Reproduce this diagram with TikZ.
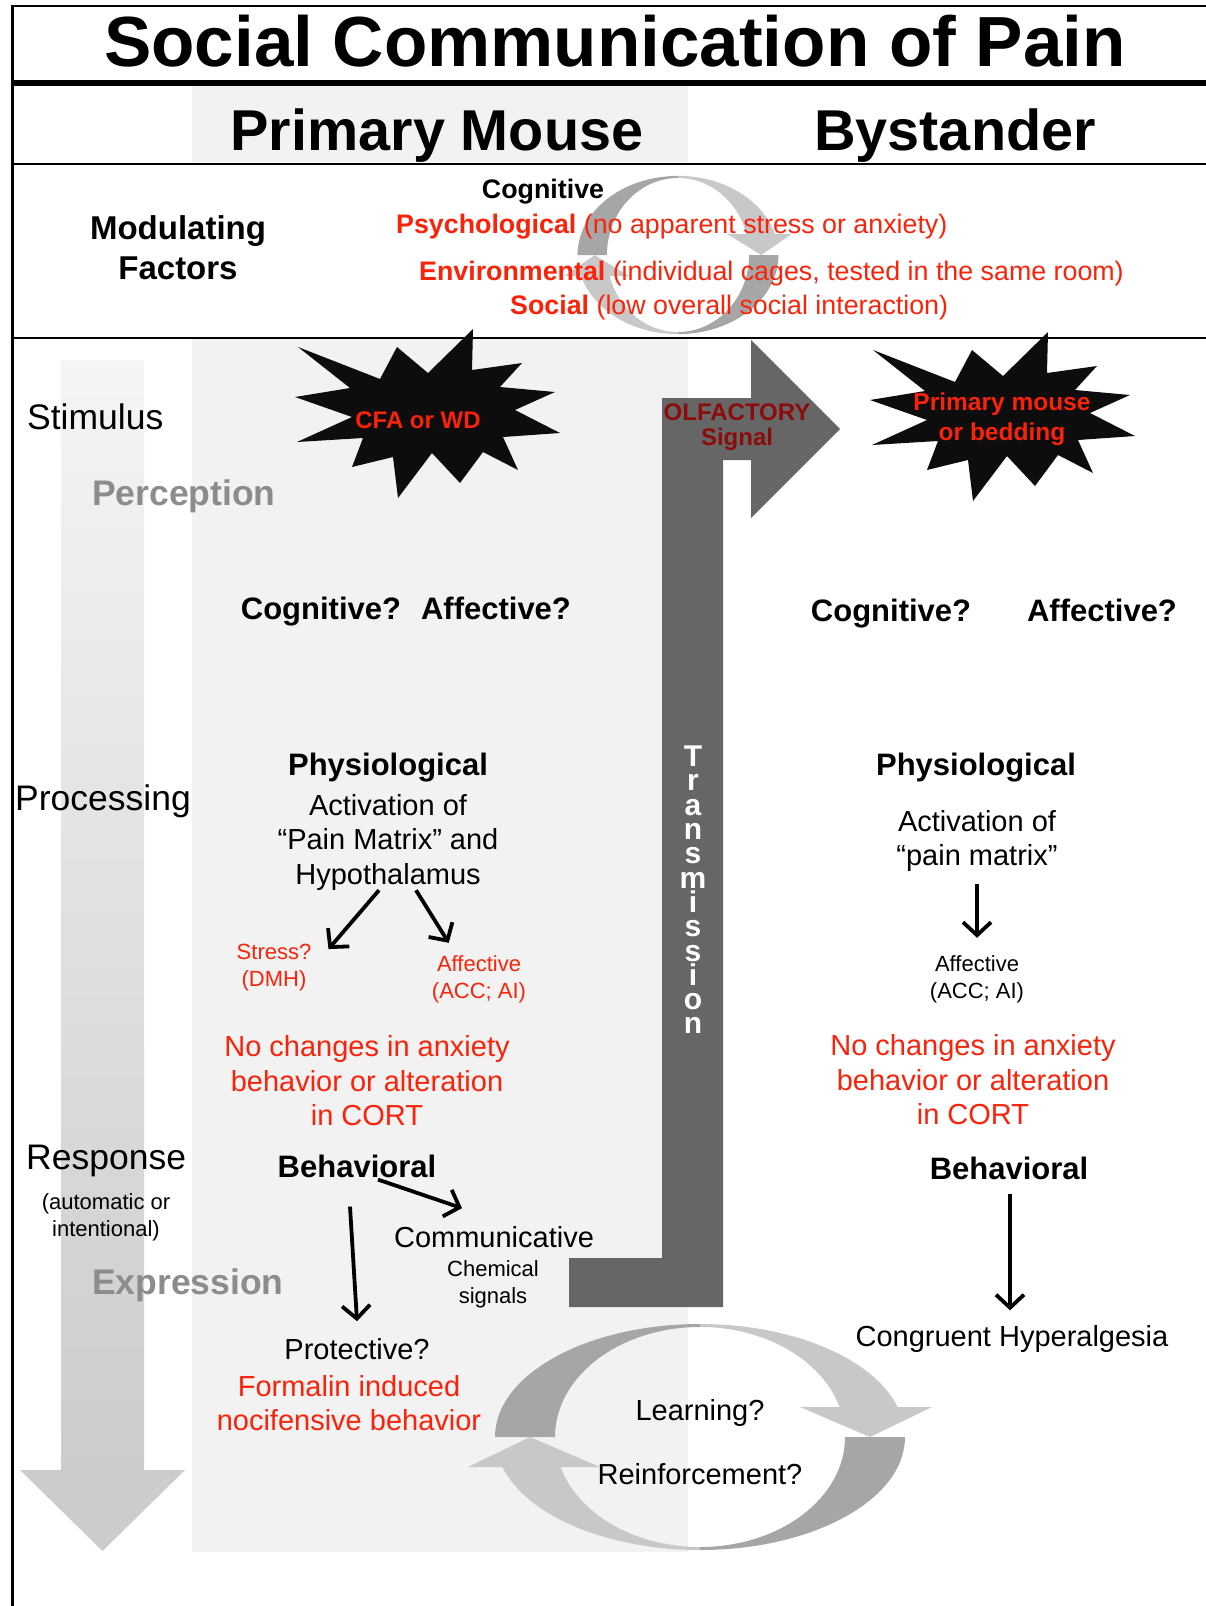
\documentclass[tikz,border=0pt]{standalone}
\usepackage{fontspec}
\setmainfont{Liberation Sans}
\usepackage{tikz}
\usetikzlibrary{arrows.meta,positioning,calc}

\definecolor{painred}{RGB}{250,35,10}
\definecolor{olfred}{RGB}{140,12,12}
\definecolor{panel}{RGB}{242,242,242}
\definecolor{cycdark}{RGB}{166,166,166}
\definecolor{cyclight}{RGB}{200,200,200}
\definecolor{olfgray}{RGB}{102,102,102}
\definecolor{stagegray}{RGB}{140,140,140}

\newcommand{\fsz}[2]{\fontsize{#1}{#2}\selectfont}

\tikzset{
  burst/.pic={
    \fill[black!95] (-122,-68) -- (-40,-36) -- (-23,-68) -- (8,-42) -- (53,-86) -- (52,-45) -- (102,-52) -- (80,-28)
      -- (135,-23) -- (95,-5) -- (140,18) -- (83,22) -- (98,55) -- (63,37) -- (40,68) -- (12,38) -- (-22,83)
      -- (-27,42) -- (-68,52) -- (-57,23) -- (-123,27) -- (-68,2) -- (-125,-18) -- (-70,-27) -- cycle;
  },
  cyc/.pic={
    \foreach \r in {0,180} {
      \begin{scope}[rotate=\r]
        \fill[cycdark] (-205,0) arc[start angle=180,end angle=270,x radius=205,y radius=113]
          -- (0,-110) arc[start angle=270,end angle=180,x radius=145,y radius=110] -- cycle;
        \fill[cyclight] (0,-113) arc[start angle=270,end angle=344.6,x radius=205,y radius=113]
          -- (232,-30) -- (170,0) -- (100,-30) -- (139.5,-30)
          arc[start angle=344.2,end angle=270,x radius=145,y radius=110] -- cycle;
      \end{scope}
    }
  }
}

\begin{document}
\begin{tikzpicture}[x=1pt, y=-1pt, every node/.style={inner sep=0pt, align=center},
  arr/.style={line width=3.8pt, -{Straight Barb[length=13pt,width=28pt]}},
  rule/.style={line width=2pt},
  side/.style={font=\fsz{35.5}{40}, anchor=west},
  stage/.style={font=\fsz{35.5}{40}\bfseries, text=stagegray, anchor=west},
  head/.style={font=\fsz{31}{36}\bfseries},
  body/.style={font=\fsz{29}{34.5}},
  tiny/.style={font=\fsz{22}{26.5}},
  mod/.style={font=\fsz{26.8}{30}, text=painred, anchor=west}]
\useasboundingbox (0,0) rectangle (1206,1606);
\fill[panel] (192,86) rectangle (688,162);
\fill[panel] (192,339) rectangle (688,1552);
\shade[top color=black!4, bottom color=black!20] (61,360) rectangle (144,1471);
\fill[black!20] (20,1470) -- (185,1470) -- (102.5,1551) -- cycle;
\pic[xscale=0.49, yscale=0.7] at (678,255) {cyc};
\draw[rule] (12,6) -- (1206,6);
\draw[line width=6pt] (12,83) -- (1206,83);
\draw[rule] (12,164) -- (1206,164);
\draw[rule] (12,338) -- (1206,338);
\draw[line width=3pt] (12,5) -- (12,1606);

\node[font=\fsz{71}{80}\bfseries] (title) at (615,41) {Social Communication of Pain};
\node[font=\fsz{57.6}{64}\bfseries] (hdrA) at (437,136) {Primary Mouse};
\node[font=\fsz{57.6}{64}\bfseries] (hdrB) at (955,136) {Bystander};
\node[font=\fsz{33}{40}\bfseries] (modf) at (178,248) {Modulating\\Factors};
\node[font=\fsz{26.8}{30}\bfseries] (cogm) at (543,192) {Cognitive};
\node[mod] (psy) at (396,227) {\textbf{Psychological} (no apparent stress or anxiety)};
\node[mod] (env) at (419,274) {\textbf{Environmental} (individual cages, tested in the same room)};
\node[mod] (soc) at (510,308) {\textbf{Social} (low overall social interaction)};

\node[side] (stim) at (27,417) {Stimulus};
\node[stage] (perc) at (92,496) {Perception};
\node[side] (proc) at (15,801) {Processing};
\node[side] (resp) at (26,1161) {Response};
\node[tiny] (auto) at (106,1217.5) {(automatic or\\intentional)};
\node[stage] (expr) at (92,1285) {Expression};

\pic at (420,415) {burst};
\node[font=\fsz{24}{30}\bfseries, text=painred] (cfa) at (418,420) {CFA or WD};
\pic at (995,418) {burst};
\node[font=\fsz{24.5}{30}\bfseries, text=painred] (prim) at (1002,419) {Primary mouse\\or bedding};

\fill[olfgray] (569,1258) -- (662,1258) -- (662,398) -- (751,398) -- (751,340) -- (840,429) -- (751,518)
  -- (751,460) -- (723,460) -- (723,1307) -- (569,1307) -- cycle;
\node[font=\fsz{24}{25}\bfseries, text=olfred] (olf) at (737,427.5) {OLFACTORY\\Signal};
\node[font=\fsz{30}{24.3}\bfseries, text=white] (trans) at (693,890) {T\\r\\a\\n\\s\\m\\i\\s\\s\\i\\o\\n};

\pic at (700,1437) {cyc};
\node[body] (learn) at (700,1413) {Learning?};
\node[body] (reinf) at (700,1474) {Reinforcement?};

\node[head] (cogA) at (321,612) {Cognitive?};
\node[head] (affA) at (496,608) {Affective?};
\node[head] (phyA) at (388,768) {Physiological};
\node[body] (actA) at (388,842) {Activation of\\“Pain Matrix” and\\Hypothalamus};
\node[tiny, text=painred] (strA) at (274,967.5) {Stress?\\(DMH)};
\node[tiny, text=painred] (limA) at (479,979.5) {Affective\\(ACC; AI)};
\node[body, text=painred] (nochA) at (367,1081) {No changes in anxiety\\behavior or alteration\\in CORT};
\node[head] (behA) at (357,1166) {Behavioral};
\node[body] (comA) at (494,1237) {Communicative};
\node[tiny, font=\fsz{22}{27}] (chemA) at (493,1284.5) {Chemical\\signals};
\node[body] (proA) at (357,1349) {Protective?};
\node[body, text=painred] (forA) at (349,1403) {Formalin induced\\nocifensive behavior};

\node[head] (cogB) at (891,614) {Cognitive?};
\node[head] (affB) at (1102,610) {Affective?};
\node[head] (phyB) at (976,768) {Physiological};
\node[body] (actB) at (977,841) {Activation of\\“pain matrix”};
\node[tiny] (limB) at (977,979.5) {Affective\\(ACC; AI)};
\node[body, text=painred] (nochB) at (973,1080) {No changes in anxiety\\behavior or alteration\\in CORT};
\node[head] (behB) at (1009,1168) {Behavioral};
\node[body] (conB) at (1012,1339) {Congruent Hyperalgesia};

\draw[arr] ($(actA.south)+(-9,0)$) -- ($(strA.north east)+(17,5)$);
\draw[arr] ($(actA.south)+(28,0)$) -- ($(limA.north west)+(17,-13)$);
\draw[arr] ($(behA.south)+(21,2)$) -- ($(comA.north)+(-32,-18)$);
\draw[arr] ($(behA.south)+(-7,29)$) -- ($(proA.north)+(0,-17)$);
\draw[arr] ($(actB.south)+(0,12)$) -- ($(limB.north)+(0,-18)$);
\draw[arr] ($(behB.south)+(1,14)$) -- ($(conB.north)+(-2,-15)$);
\end{tikzpicture}
\end{document}
